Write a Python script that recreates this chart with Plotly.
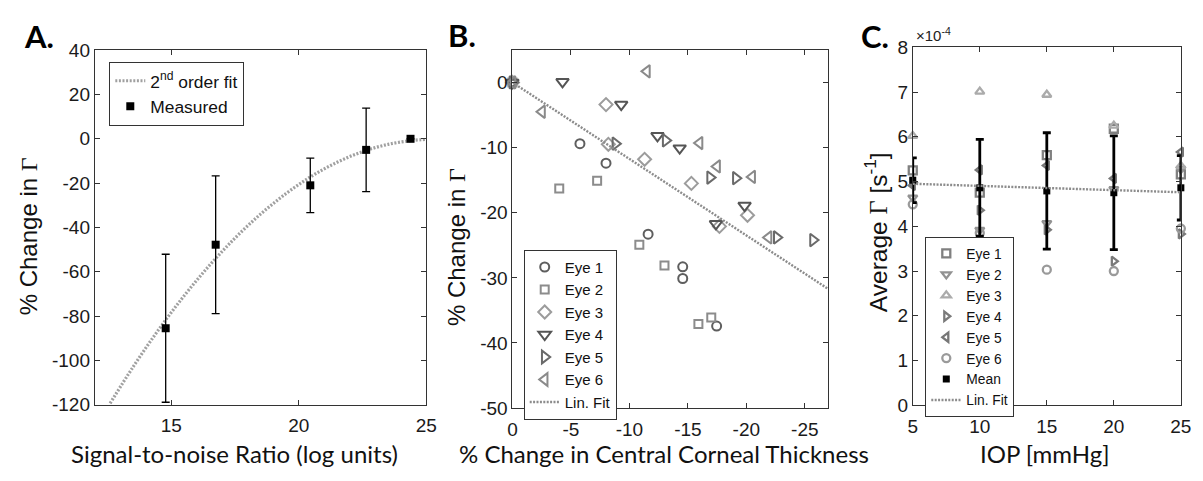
import plotly.graph_objects as go

W, H = 1203, 481

# ---------------- Panel A data ----------------
snr = [14.78, 16.74, 20.45, 22.64, 24.38]
meas_change = [-85.5, -47.8, -21.0, -5.0, 0.0]
meas_err = [33.4, 31.1, 12.3, 18.8, 0.0]
fit2_x = [12.6, 13.5, 14.5, 15.5, 16.5, 17.5, 18.5, 19.5, 20.5, 21.5, 22.5, 23.5, 24.5, 25.0]
fit2_y = [-119.4, -103.0, -86.2, -70.9, -57.1, -44.8, -34.0, -24.7, -16.9, -10.6, -5.8, -2.5, -0.7, -0.3]
a_xticks = [15, 20, 25]
a_yticks = [-120, -100, -80, -60, -40, -20, 0, 20, 40]

# ---------------- Panel B data ----------------
cct_eye1 = [0, -5.77, -8.0, -11.6, -14.56, -14.56, -17.46]
gam_eye1 = [0, -9.4, -12.4, -23.3, -28.3, -30.1, -37.4]
cct_eye2 = [0, -4.0, -7.24, -10.85, -13.0, -15.9, -17.0]
gam_eye2 = [0, -16.3, -15.1, -24.9, -28.1, -37.1, -36.1]
cct_eye3 = [0, -8.0, -8.2, -11.3, -15.3, -17.7, -20.1]
gam_eye3 = [0, -3.4, -9.5, -11.8, -15.5, -22.1, -20.4]
cct_eye4 = [0, -4.28, -9.3, -12.4, -14.3, -17.4, -19.85]
gam_eye4 = [0, 0.1, -3.4, -8.2, -10.1, -21.7, -18.9]
cct_eye5 = [0, -8.8, -13.1, -16.9, -19.1, -22.6, -25.7]
gam_eye5 = [0, -9.4, -8.9, -14.6, -14.7, -23.8, -24.2]
cct_eye6 = [0, -2.53, -11.5, -16.0, -17.5, -20.5, -21.9]
gam_eye6 = [0, -4.5, 1.7, -9.3, -12.9, -14.5, -23.8]
linfit_b_x = [0, -27]
linfit_b_y = [0, -31.7]
b_xticks = [0, -5, -10, -15, -20, -25]
b_xlabels = ["0", "-5", "-10", "-15", "-20", "-25"]
b_yticks = [-50, -40, -30, -20, -10, 0]
b_ylabels = ["-50", "-40", "-30", "-20", "-10", "0"]

# ---------------- Panel C data (units of 1e-4 s^-1) ----------------
iop = [5, 10, 15, 20, 25]
avg_eye1 = [5.25, 4.75, 5.59, 6.18, 5.16]
avg_eye2 = [4.64, 3.92, 4.07, 4.83, 5.28]
avg_eye3 = [6.02, 7.01, 6.94, 6.25, 5.35]
avg_eye4 = [4.98, 4.36, 3.92, 3.22, 3.83]
avg_eye5 = [4.91, 5.26, 5.36, 5.07, 5.66]
avg_eye6 = [4.49, 3.85, 3.03, 3.00, 3.95]
avg_mean = [5.03, 4.86, 4.79, 4.75, 4.86]
avg_sd = [0.50, 1.08, 1.30, 1.27, 0.72]
linfit_c_x = [5, 25]
linfit_c_y = [4.95, 4.76]
c_xticks = [5, 10, 15, 20, 25]
c_yticks = [0, 1, 2, 3, 4, 5, 6, 7, 8]

# ---------------- styling ----------------
TICKFONT = dict(family="Liberation Sans, Arial, sans-serif", size=19, color="#1a1a1a")
SANS = "Liberation Sans, Arial, sans-serif"
TITLEFONT = "Lato, Calibri, sans-serif"


def dom_x(l, r):
    return [l / W, r / W]


def dom_y(top, bot):
    return [1 - bot / H, 1 - top / H]


def axis_style(**kw):
    d = dict(showline=True, linecolor="#333333", linewidth=1, mirror="allticks",
             ticks="inside", ticklen=5, tickcolor="#333333", showgrid=False,
             zeroline=False, tickfont=TICKFONT, fixedrange=True)
    d.update(kw)
    return d


fig = go.Figure()

# ---- Panel A ----
fig.add_trace(go.Scatter(x=fit2_x, y=fit2_y, mode="lines", line_shape="spline",
                         line=dict(color="#a0a0a0", width=3.2, dash="2px,1.6px"),
                         name="2<sup>nd</sup> order fit", xaxis="x", yaxis="y", legend="legend"))
fig.add_trace(go.Scatter(x=snr, y=meas_change, mode="markers", cliponaxis=False,
                         marker=dict(symbol="square", size=8, color="black"),
                         error_y=dict(type="data", array=meas_err, visible=True,
                                      color="black", thickness=1.3, width=4),
                         name="Measured", xaxis="x", yaxis="y", legend="legend"))

# ---- Panel B ----
b_eyes = [
    ("Eye 1", cct_eye1, gam_eye1, "circle-open", "#5e5e5e", 9),
    ("Eye 2", cct_eye2, gam_eye2, "square-open", "#8c8c8c", 8),
    ("Eye 3", cct_eye3, gam_eye3, "diamond-open", "#9c9c9c", 10),
    ("Eye 4", cct_eye4, gam_eye4, "triangle-down-open", "#555555", 11),
    ("Eye 5", cct_eye5, gam_eye5, "triangle-right-open", "#6a6a6a", 11),
    ("Eye 6", cct_eye6, gam_eye6, "triangle-left-open", "#8a8a8a", 11),
]
for name, xs, ys, sym, col, sz in b_eyes:
    fig.add_trace(go.Scatter(x=xs, y=ys, mode="markers", name=name, cliponaxis=False,
                             marker=dict(symbol=sym, size=sz, color=col, line=dict(width=2, color=col)),
                             xaxis="x2", yaxis="y2", legend="legend2"))
fig.add_trace(go.Scatter(x=linfit_b_x, y=linfit_b_y, mode="lines", name="Lin. Fit",
                         line=dict(color="#8c8c8c", width=2.4, dash="2px,1.4px"),
                         xaxis="x2", yaxis="y2", legend="legend2"))

# ---- Panel C ----
c_eyes = [
    ("Eye 1", avg_eye1, "square-open", "#808080"),
    ("Eye 2", avg_eye2, "triangle-down-open", "#929292"),
    ("Eye 3", avg_eye3, "triangle-up-open", "#ababab"),
    ("Eye 4", avg_eye4, "triangle-right-open", "#7a7a7a"),
    ("Eye 5", avg_eye5, "triangle-left-open", "#777777"),
    ("Eye 6", avg_eye6, "circle-open", "#9a9a9a"),
]
for name, ys, sym, col in c_eyes:
    fig.add_trace(go.Scatter(x=iop, y=ys, mode="markers", name=name, cliponaxis=False,
                             marker=dict(symbol=sym, size=8, color=col, line=dict(width=2.3, color=col)),
                             xaxis="x3", yaxis="y3", legend="legend3"))
fig.add_trace(go.Scatter(x=iop, y=avg_mean, mode="markers", name="Mean", cliponaxis=False,
                         marker=dict(symbol="square", size=7, color="black"),
                         error_y=dict(type="data", array=avg_sd, visible=True,
                                      color="black", thickness=2.8, width=4),
                         xaxis="x3", yaxis="y3", legend="legend3"))
fig.add_trace(go.Scatter(x=linfit_c_x, y=linfit_c_y, mode="lines", name="Lin. Fit",
                         line=dict(color="#8c8c8c", width=2.4, dash="2px,1.4px"),
                         xaxis="x3", yaxis="y3", legend="legend3"))

legend_common = dict(bgcolor="white", bordercolor="#333333", borderwidth=1,
                     xanchor="left", yanchor="top", traceorder="normal")

XSTAND = 4

fig.update_layout(
    width=W, height=H, autosize=False,
    margin=dict(l=0, r=0, t=0, b=0),
    paper_bgcolor="white", plot_bgcolor="white",
    xaxis=axis_style(domain=dom_x(91, 427), range=[12, 25], tickvals=a_xticks, anchor="y",
                     ticklabelstandoff=XSTAND),
    yaxis=axis_style(domain=dom_y(42, 412.7), range=[-120, 40], tickvals=a_yticks,
                     ticktext=[str(v) for v in a_yticks], anchor="x"),
    xaxis2=axis_style(domain=dom_x(514.3, 834.3), range=[0, -27], tickvals=b_xticks,
                      ticktext=b_xlabels, anchor="y2", ticklabelstandoff=XSTAND),
    yaxis2=axis_style(domain=dom_y(41.7, 416.3), range=[-50, 5], tickvals=b_yticks,
                      ticktext=b_ylabels, anchor="x2"),
    xaxis3=axis_style(domain=dom_x(920, 1191.7), range=[5, 25], tickvals=c_xticks, anchor="y3",
                      ticklabelstandoff=XSTAND),
    yaxis3=axis_style(domain=dom_y(39, 413.3), range=[0, 8], tickvals=c_yticks, anchor="x3"),
    legend=dict(legend_common, x=105.7 / W, y=1 - 54.3 / H,
                font=dict(family=SANS, size=17.4, color="#111")),
    legend2=dict(legend_common, x=525.7 / W, y=1 - 250.7 / H,
                 font=dict(family=SANS, size=15, color="#111")),
    legend3=dict(legend_common, x=932.7 / W, y=1 - 237.3 / H,
                 font=dict(family=SANS, size=13.8, color="#111")),
    showlegend=True,
)

G = '<span style="font-family:Liberation Serif, Times New Roman, serif">Γ</span>'
annots = [
    # panel letters
    dict(text="<b>A.</b>", x=17 / W, y=1 - 27 / H, font=dict(family=TITLEFONT, size=31, color="black"),
         xanchor="left", yanchor="middle"),
    dict(text="<b>B.</b>", x=447 / W, y=1 - 26 / H, font=dict(family=TITLEFONT, size=31, color="black"),
         xanchor="left", yanchor="middle"),
    dict(text="<b>C.</b>", x=866 / W, y=1 - 27 / H, font=dict(family=TITLEFONT, size=31, color="black"),
         xanchor="left", yanchor="middle"),
    # x titles
    dict(text="Signal-to-noise Ratio (log units)", x=233 / W, y=1 - 464 / H,
         font=dict(family=TITLEFONT, size=24, color="#111"), xanchor="center", yanchor="middle"),
    dict(text="% Change in Central Corneal Thickness", x=668 / W, y=1 - 464 / H,
         font=dict(family=TITLEFONT, size=24, color="#111"), xanchor="center", yanchor="middle"),
    dict(text="IOP [mmHg]", x=1054 / W, y=1 - 464 / H,
         font=dict(family=TITLEFONT, size=24, color="#111"), xanchor="center", yanchor="middle"),
    # y titles
    dict(text="% Change in " + G, x=24 / W, y=1 - 237 / H, textangle=-90,
         font=dict(family=SANS, size=24, color="#111"), xanchor="center", yanchor="middle"),
    dict(text="% Change in " + G, x=457 / W, y=1 - 248 / H, textangle=-90,
         font=dict(family=SANS, size=24, color="#111"), xanchor="center", yanchor="middle"),
    dict(text="Average " + G + " [s<sup>-1</sup>]", x=883 / W, y=1 - 232 / H, textangle=-90,
         font=dict(family=SANS, size=24.5, color="#111"), xanchor="center", yanchor="middle"),
    # exponent label
    dict(text="×10<sup>-4</sup>", x=921 / W, y=1 - 26 / H,
         font=dict(family=SANS, size=15, color="#222"), xanchor="left", yanchor="middle"),
]
for a in annots:
    a.update(xref="paper", yref="paper", showarrow=False)
fig.update_layout(annotations=annots)

fig.write_html("out.html")
